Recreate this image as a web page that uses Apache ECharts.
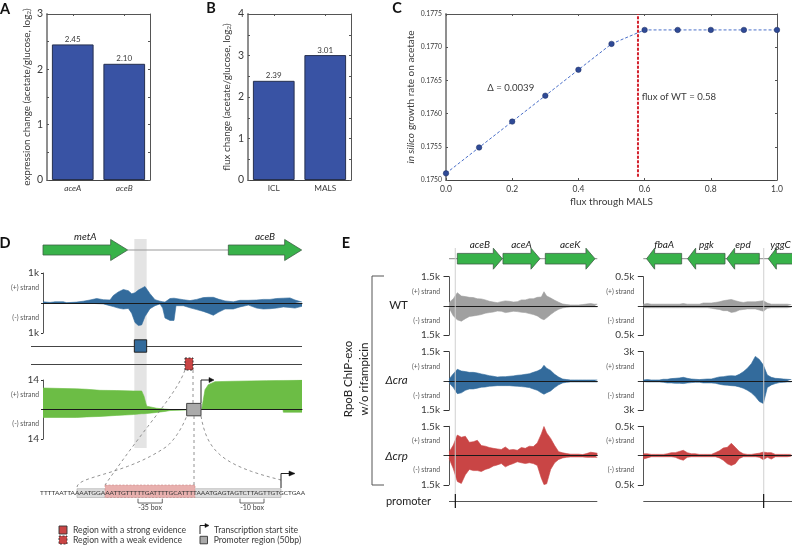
<!DOCTYPE html>
<html><head><meta charset="utf-8">
<style>html,body{margin:0;padding:0;background:#fff}#c{width:792px;height:545px}</style>
<script src="https://cdn.jsdelivr.net/npm/echarts@6/dist/echarts.min.js"></script>
</head><body><div id="c"></div>
<script>
// ---- panel A, B, C values
const exprGenes = ['aceA','aceB'];
const exprValues = [2.45,2.10];
const fluxReactions = ['ICL','MALS'];
const fluxValues = [2.39,3.01];
const malsFlux = [0,0.1,0.2,0.3,0.4,0.5,0.6,0.7,0.8,0.9,1.0];
const growthRate = [0.17510,0.17549,0.17588,0.17627,0.17666,0.17705,0.17726,0.17726,0.17726,0.17726,0.17726];
const wtFlux = 0.58;

// ---- panel D: genomic position (arbitrary units) and tracks
const dPos = [129,150,165,190,200,230,250,270,290,310,330,340,355,370,385,395,405,415,425,435,450,465,480,488,495,510,522,528,550,570,590,610,625,640,655,675,700,720,745,770,790,810,830,850,870,885,906];
const dChipPlus = [40,20,40,40,10,30,60,100,150,110,100,250,370,450,410,310,340,430,490,550,310,110,60,40,30,150,160,160,110,80,120,180,190,190,130,70,40,90,90,100,120,120,150,160,170,100,30];
const dChipMinus = [0,0,0,0,0,0,0,10,20,30,90,120,170,200,180,340,650,750,730,450,190,90,30,170,500,580,580,90,90,160,220,280,340,410,310,200,200,130,70,170,200,190,170,130,150,170,110];
const gPos = [129,230,260,300,350,400,425,432,440,445,470,495,510,512,605,610,615,625,645,700,800,849,850,906];
const rnaPlus = [10.2,9.8,9.6,9.1,9.0,8.8,8.8,6.3,1.6,0.8,0.6,0.2,0,0,0,4.7,9.4,11.8,13.2,13.4,13.7,13.8,13.8,14];
const rnaMinus = [3.8,3.8,3.5,3.3,2.8,2.4,2.0,2.0,1.9,1.9,1.4,0.9,0.5,0,0,0,0,0,0,0,0,0,1.3,1.3];
const dGeneNames = ['metA','aceB'], dGeneStarts = [129,685], dGeneEnds = [383,905];
const dStrongRegion = [403,440], dWeakRegion = [555,579], dPromoterRegion = [560,603];

// ---- panel E: left operon
const ePosL = [327,340,352,364,376,388,400,412,424,436,448,460,472,484,496,508,520,532,544,556,568,580,592,604,612,620,632,644,656,668,680,692,704,716,728,740,752,764,772];
const wtLPlus = [170,370,680,510,480,440,430,370,360,310,240,200,170,220,260,240,200,220,310,310,370,370,440,460,730,510,410,290,190,100,70,50,50,50,70,100,120,90,90];
const wtLMinus = [90,510,710,780,650,540,510,480,440,370,340,310,260,270,340,310,270,290,320,340,390,440,510,650,710,610,440,290,170,100,70,50,50,50,50,50,50,50,50];
const craLPlus = [90,370,600,510,480,440,440,410,360,320,270,240,200,220,220,240,260,290,310,340,370,440,510,610,800,650,540,340,200,100,70,50,50,50,50,50,50,50,50];
const craLMinus = [90,340,650,610,480,410,410,370,320,310,270,260,240,240,240,240,260,270,290,310,340,410,480,610,680,610,510,340,200,100,70,50,50,50,50,50,50,50,50];
const crpLPlus = [170,540,1050,940,990,680,710,780,510,480,410,370,340,310,440,290,310,270,410,370,480,460,650,1110,1490,1160,880,510,200,140,100,70,70,70,50,100,170,140,120];
const crpLMinus = [140,680,1330,1430,990,710,770,770,820,710,650,540,480,410,580,480,410,320,370,410,370,410,510,1160,1490,1450,710,370,200,120,90,70,70,70,70,90,90,90,90];
// ---- panel E: right operon
const ePosR = [160,172,184,196,208,220,232,244,256,268,280,292,304,316,328,340,352,364,376,388,400,412,424,436,448,460,472,484,496,508,520,532,544,556,568,580,592,604];
const wtRPlus = [30,40,30,30,30,30,30,30,30,30,40,30,30,30,30,50,50,50,60,70,90,100,110,90,70,60,70,70,70,80,90,50,30,30,30,30,30,20];
const wtRMinus = [30,30,30,30,30,30,30,30,30,30,30,30,30,30,30,30,30,40,50,60,80,80,110,100,70,60,50,50,50,70,90,40,30,30,30,30,30,20];
const craRPlus = [100,140,100,100,100,170,170,240,270,310,370,270,200,170,140,170,200,200,310,410,440,510,540,510,680,950,1290,1770,2520,2210,1630,610,370,270,240,200,170,140];
const craRMinus = [70,100,100,100,100,140,200,200,240,240,270,200,170,140,140,200,200,200,240,340,410,440,480,510,610,750,950,1220,1600,2110,2310,680,410,270,170,140,100,100];
const crpRPlus = [30,30,20,20,20,20,30,50,50,70,90,50,30,30,20,20,20,20,50,80,130,140,210,140,70,30,20,20,30,40,60,50,50,20,20,20,20,20];
const crpRMinus = [60,40,20,20,20,20,20,20,30,60,80,30,20,20,20,20,20,20,20,40,80,140,170,140,50,20,20,20,20,30,70,30,60,20,20,20,20,10];
const eGeneNamesL = ['aceB','aceA','aceK'], eGeneStartsL = [352,489,616], eGeneEndsL = [487,600,765];
const eGeneNamesR = ['fbaA','pgk','epd','yggC'], eGeneStartsR = [170,293,410,535], eGeneEndsR = [275,405,508,608];
const ePromoterL = 346, ePromoterR = 521;
const promoterSequence = 'TTTTAATTAAAATGGAAATTGTTTTTGATTTTGCATTTTAAATGAGTAGTCTTAGTTGTGCTGAA';

// ---- style
const FONT = 'Lato';
const TXT = '#3a3a3a', BAR = '#3953a4', BAR_EDGE = '#26304f', AXC = '#555', LEFTAX = '#8f8f8f';
const GREEN = '#38b24a', GREEN_EDGE = '#3d5f45';
const BLUE = '#336b9c', GREY = '#a0a0a0', RED = '#c94545', RNA = '#6cbd45';

const grids = [], xAxes = [], yAxes = [], series = [];
function addGrid(l,t,w,h){grids.push({left:l,top:t,width:w,height:h,containLabel:false});return grids.length-1;}
const off = {show:false};

// ---- bar panels
function barPanel(left, cats, vals, yMax, nameRich, italic, nameGap){
  const g = addGrid(left,14,103,166);
  const xi = xAxes.length, yi = yAxes.length;
  const line = c=>({show:true,onZero:false,lineStyle:{color:c,width:1}});
  xAxes.push({gridIndex:g,type:'category',data:cats,position:'bottom',axisLine:line('#444'),
    axisTick:{show:false},axisLabel:{fontFamily:FONT,fontSize:8.3,fontStyle:italic?'italic':'normal',color:TXT,margin:4}});
  xAxes.push({gridIndex:g,type:'category',data:cats,position:'top',axisLine:line('#555'),
    axisTick:{show:true,inside:true,length:2,alignWithLabel:true,lineStyle:{color:AXC}},axisLabel:off});
  yAxes.push({gridIndex:g,type:'value',min:0,max:yMax,interval:0.5,position:'left',
    axisLine:{show:true,onZero:false,lineStyle:{color:LEFTAX,width:2}},
    axisTick:{show:true,inside:true,length:2,lineStyle:{color:AXC}},splitLine:off,
    axisLabel:{fontFamily:FONT,fontSize:10.5,color:TXT,margin:4,formatter:v=>Number.isInteger(v)?String(v):''},
    name:nameRich,nameLocation:'middle',nameGap:nameGap,
    nameTextStyle:{fontFamily:FONT,fontSize:9.9,color:TXT,rich:{a:{fontFamily:FONT,fontSize:9.9,color:TXT},s:{fontFamily:FONT,fontSize:6.5,color:TXT,padding:[4,0,0,0]}}}});
  yAxes.push({gridIndex:g,type:'value',min:0,max:yMax,interval:0.5,position:'right',axisLine:line('#555'),
    axisTick:{show:true,inside:true,length:2,lineStyle:{color:AXC}},axisLabel:off,splitLine:off});
  series.push({type:'bar',xAxisIndex:xi,yAxisIndex:yi,data:vals,barWidth:'81%',
    itemStyle:{color:BAR,borderColor:BAR_EDGE,borderWidth:1},
    label:{show:true,position:'top',distance:1,fontFamily:FONT,fontSize:8,color:TXT,formatter:p=>p.value.toFixed(2)}});
}
barPanel(47,exprGenes,exprValues,3,'{a|expression change (acetate/glucose, log}{s|2}{a|)}',true,15);
barPanel(248,fluxReactions,fluxValues,4,'{a|flux change (acetate/glucose, log}{s|2}{a|)}',false,16);

// ---- panel C
(function(){
  const g = addGrid(446,14,331,166);
  const xi = xAxes.length, yi = yAxes.length;
  const tick = {show:true,inside:true,length:2,lineStyle:{color:AXC}};
  xAxes.push({gridIndex:g,type:'value',min:0,max:1,interval:0.2,position:'bottom',axisLine:{show:true,onZero:false,lineStyle:{color:'#444'}},axisTick:tick,splitLine:off,
    axisLabel:{fontFamily:FONT,fontSize:8.5,color:TXT,margin:5,formatter:v=>v.toFixed(1)},
    name:'flux through MALS',nameLocation:'middle',nameGap:16.5,nameTextStyle:{fontFamily:FONT,fontSize:10,color:TXT}});
  xAxes.push({gridIndex:g,type:'value',min:0,max:1,interval:0.2,position:'top',axisLine:{show:true,onZero:false,lineStyle:{color:AXC}},axisTick:tick,axisLabel:off,splitLine:off});
  yAxes.push({gridIndex:g,type:'value',min:0.175,max:0.1775,interval:0.0005,position:'left',axisLine:{show:true,onZero:false,lineStyle:{color:LEFTAX,width:2}},axisTick:tick,splitLine:off,
    axisLabel:{fontFamily:FONT,fontSize:6.8,color:TXT,margin:4,formatter:v=>v.toFixed(4)},
    name:'{i|in silico} {a|growth rate on acetate}',nameLocation:'middle',nameGap:28,
    nameTextStyle:{rich:{a:{fontFamily:FONT,fontSize:10,color:TXT},i:{fontFamily:FONT,fontSize:10,color:TXT,fontStyle:'italic'}}}});
  yAxes.push({gridIndex:g,type:'value',min:0.175,max:0.1775,interval:0.0005,position:'right',axisLine:{show:true,onZero:false,lineStyle:{color:AXC}},axisTick:tick,axisLabel:off,splitLine:off});
  series.push({type:'line',xAxisIndex:xi,yAxisIndex:yi,data:malsFlux.map((x,i)=>[x,growthRate[i]]),clip:false,
    lineStyle:{color:'#4a6fc9',width:1,type:[3,2]},symbol:'circle',symbolSize:5.5,
    itemStyle:{color:'#2f4a96',borderColor:'#1f2f60',borderWidth:0.5},z:4});
  series.push({type:'line',xAxisIndex:xi,yAxisIndex:yi,data:[[wtFlux,0.17505],[wtFlux,0.1775]],symbol:'none',
    lineStyle:{color:'#d3212c',width:2,type:[3,1.5]},z:3});
})();

// ---- signal tracks
function track(left,top,width,height,pos,xMin,xMax,plus,minus,yMax,color,fmt,tickLen,labelMargin){
  const g = addGrid(left,top,width,height);
  const xi = xAxes.length, yi = yAxes.length;
  xAxes.push({gridIndex:g,type:'value',min:xMin,max:xMax,axisLine:{show:true,onZero:true,lineStyle:{color:'#1a1a1a',width:1}},axisTick:off,axisLabel:off,splitLine:off,z:6});
  yAxes.push({gridIndex:g,type:'value',min:-yMax,max:yMax,position:'left',
    axisLine:{show:true,onZero:false,lineStyle:{color:'#555',width:1}},
    axisTick:{show:true,length:tickLen,customValues:[-yMax,0,yMax],lineStyle:{color:'#333'}},splitLine:off,
    axisLabel:{margin:labelMargin,customValues:[-yMax,-yMax/2,0,yMax/2,yMax],hideOverlap:false,showMinLabel:true,showMaxLabel:true,
      formatter:v=>{ if(v===0) return ''; if(Math.abs(v)===yMax) return '{m|'+fmt+'}'; return v>0?'{s|(+) strand}':'{s|(-) strand}'; },
      rich:{m:{fontFamily:FONT,fontSize:10,color:TXT},s:{fontFamily:FONT,fontSize:6.8,color:'#555'}}}});
  const mk = (vals,sign)=>({type:'line',xAxisIndex:xi,yAxisIndex:yi,data:pos.map((x,i)=>[x,sign*vals[i]]),symbol:'none',sampling:'none',
    lineStyle:{width:0.6,color:color},areaStyle:{color:color,opacity:1,origin:0},z:3});
  series.push(mk(plus,1),mk(minus,-1));
}
track(43,273,259,60,dPos,129,906,dChipPlus,dChipMinus,1000,BLUE,'1k',2,4);
track(43,380,259,59,gPos,129,906,rnaPlus,rnaMinus,14,RNA,'14',2,4);

const LX=449,LW=148.3,RX=643.3,RW=148.7;
const rows=[276.7,351.7,426.3];
track(LX,rows[0],LW,58.5,ePosL,327,772,wtLPlus,wtLMinus,1500,GREY,'1.5k',5.5,9);
track(LX,rows[1],LW,58.5,ePosL,327,772,craLPlus,craLMinus,1500,BLUE,'1.5k',5.5,9);
track(LX,rows[2],LW,58.5,ePosL,327,772,crpLPlus,crpLMinus,1500,RED,'1.5k',5.5,9);
track(RX,rows[0],RW,58.5,ePosR,160,606,wtRPlus,wtRMinus,500,GREY,'0.5k',5.5,9);
track(RX,rows[1],RW,58.5,ePosR,160,606,craRPlus,craRMinus,3000,BLUE,'3k',5.5,9);
track(RX,rows[2],RW,58.5,ePosR,160,606,crpRPlus,crpRMinus,500,RED,'0.5k',5.5,9);

// ---- overlay grids in genomic units
function overlay(left,top,width,height,xMin,xMax){
  const g = addGrid(left,top,width,height);
  const xi=xAxes.length, yi=yAxes.length;
  xAxes.push({gridIndex:g,type:'value',min:xMin,max:xMax,show:false});
  yAxes.push({gridIndex:g,type:'value',min:0,max:height,inverse:true,show:false});
  return {xi,yi};
}
function customSeries(ov,data,render,z){
  return {type:'custom',xAxisIndex:ov.xi,yAxisIndex:ov.yi,data:data,clip:false,silent:true,z:z||5,encode:{x:[0,1]},renderItem:render};
}
function genes(ov,names,starts,ends,dir,row,head,halfBody,halfHead,labelUp){
  series.push(customSeries(ov,starts.map((s,i)=>[s,ends[i]]),function(params,api){
    const a=api.coord([api.value(0),row]), b=api.coord([api.value(1),row]);
    const x0=a[0],x1=b[0],y=a[1];
    const pts = dir>0
      ? [[x0,y-halfBody],[x1-head,y-halfBody],[x1-head,y-halfHead],[x1,y],[x1-head,y+halfHead],[x1-head,y+halfBody],[x0,y+halfBody]]
      : [[x1,y-halfBody],[x0+head,y-halfBody],[x0+head,y-halfHead],[x0,y],[x0+head,y+halfHead],[x0+head,y+halfBody],[x1,y+halfBody]];
    return {type:'group',children:[
      {type:'polygon',shape:{points:pts},style:{fill:GREEN,stroke:GREEN_EDGE,lineWidth:0.8}},
      {type:'text',style:{x:(x0+x1)/2,y:y-labelUp,text:names[params.dataIndex],font:'italic 10px '+FONT,fill:'#222',textAlign:'center',textVerticalAlign:'middle'}}
    ]};
  }));
}
function hLine(ov,x0,x1,row,color,width,z){
  series.push(customSeries(ov,[[x0,x1]],function(p,api){
    const a=api.coord([api.value(0),row]),b=api.coord([api.value(1),row]);
    return {type:'line',shape:{x1:a[0],y1:a[1],x2:b[0],y2:b[1]},style:{stroke:color,lineWidth:width}};
  },z));
}
function box(ov,span,row,half,style,z){
  series.push(customSeries(ov,[span],function(p,api){
    const a=api.coord([api.value(0),row]),b=api.coord([api.value(1),row]);
    return {type:'rect',shape:{x:a[0],y:a[1]-half,width:b[0]-a[0],height:2*half},style:style};
  },z));
}

// panel D overlay: y units are pixels below y=239
const dO = overlay(43,239,259,209,129,906);
box(dO,dStrongRegion,104.5,104.5,{fill:'#e4e4e4'},1);
hLine(dO,dGeneEnds[0],dGeneStarts[1],11,'#9a9a9a',1.2);
genes(dO,dGeneNames,dGeneStarts,dGeneEnds,1,11,17,5,10.5,13);
hLine(dO,93,906,107.5,'#444',1);
hLine(dO,93,906,125.5,'#444',1);
box(dO,dStrongRegion,107,6.2,{fill:BLUE,stroke:'#222',lineWidth:1},6);
box(dO,dWeakRegion,125,6,{fill:RED,stroke:'#333',lineWidth:1,lineDash:[2,1.5]},6);
box(dO,dPromoterRegion,170.6,6.2,{fill:'#aaa',stroke:'#444',lineWidth:1},7);

// panel E overlays
const eL = overlay(LX,248,LW,260,327,772), eR = overlay(RX,248,RW,260,160,606);
hLine(eL,327,772,10.7,'#8a8a8a',1);
hLine(eR,160,606,10.7,'#8a8a8a',1);
genes(eL,eGeneNamesL,eGeneStartsL,eGeneEndsL,1,10.7,9,5.3,10.5,13.7);
genes(eR,eGeneNamesR,eGeneStartsR,eGeneEndsR,-1,10.7,8,5.3,10.5,13.7);
hLine(eL,327,772,253.5,'#555',1);
hLine(eR,160,606,253.5,'#555',1);
function promoterMark(ov,pos){
  series.push(customSeries(ov,[[pos,pos]],function(p,api){
    const a=api.coord([api.value(0),0]), m=api.coord([api.value(0),246]), b=api.coord([api.value(0),260]);
    return {type:'group',children:[
      {type:'line',shape:{x1:a[0],y1:a[1],x2:m[0],y2:m[1]},style:{stroke:'#cfcfcf',lineWidth:1.3,opacity:0.75}},
      {type:'line',shape:{x1:m[0],y1:m[1],x2:b[0],y2:b[1]},style:{stroke:'#111',lineWidth:1.2}}
    ]};
  },8));
}
promoterMark(eL,ePromoterL);
promoterMark(eR,ePromoterR);

// ---- annotations
const gfx=[];
function T(x,y,text,o){o=o||{};gfx.push({type:'text',x:x,y:y,rotation:o.rot||0,z:20,style:{text:text,font:(o.style||'')+' '+(o.weight||'')+' '+(o.size||9)+'px '+FONT,fill:o.fill||TXT,textAlign:o.align||'left',textVerticalAlign:'middle'}});}
// small path helper for annotation strokes: M, H, V, L, C, Z commands become a polyline or polygon
function P(d,o){o=o||{};
  const tk=d.match(/[MHVLCZ]|-?[\d.]+/g); let i=0,c=null,x=0,y=0,pts=[],closed=false;
  while(i<tk.length){
    if(/[A-Z]/.test(tk[i])){c=tk[i++]; if(c==='Z'){closed=true;continue;}}
    if(c==='M'||c==='L'){x=+tk[i++];y=+tk[i++];pts.push([x,y]);}
    else if(c==='H'){x=+tk[i++];pts.push([x,y]);}
    else if(c==='V'){y=+tk[i++];pts.push([x,y]);}
    else if(c==='C'){const a=+tk[i++],b=+tk[i++],e=+tk[i++],f=+tk[i++],g=+tk[i++],h=+tk[i++];
      for(let k=1;k<=16;k++){const t=k/16,u=1-t;pts.push([u*u*u*x+3*u*u*t*a+3*u*t*t*e+t*t*t*g,u*u*u*y+3*u*u*t*b+3*u*t*t*f+t*t*t*h]);}
      x=g;y=h;}
  }
  gfx.push({type:closed?'polygon':'polyline',z:o.z||15,shape:{points:pts},style:{fill:closed?(o.fill||'none'):'none',stroke:o.stroke===undefined?'#777':o.stroke,lineWidth:o.w||0.8,lineDash:o.dash||null}});
}
function R(x,y,w,h,o){gfx.push({type:'rect',z:o.z||15,shape:{x:x,y:y,width:w,height:h},style:{fill:o.fill,stroke:o.stroke||null,lineWidth:o.w||0.8,lineDash:o.dash||null,opacity:o.op==null?1:o.op}});}

[['A',5,9],['B',211,8],['C',397,8],['D',5,243],['E',346,243]].forEach(a=>T(a[1],a[2],a[0],{weight:'bold',size:14.5,fill:'#111',align:'center'}));
T(510.7,88,'\u0394 = 0.0039',{size:9.6,align:'center'});
T(641.7,97,'flux of WT = 0.58',{size:9.6});

// bracket and row labels
P('M384,276H372V485H384',{stroke:'#555',w:1});
T(348,379,'RpoB ChIP-exo',{rot:Math.PI/2,size:11.5,align:'center',fill:'#222'});
T(364,379,'w/o rifampicin',{rot:Math.PI/2,size:11.5,align:'center',fill:'#222'});
T(398.5,305,'WT',{size:11.5,align:'center',fill:'#222'});
T(396.5,380.5,'\u0394cra',{size:11.5,align:'center',style:'italic',fill:'#222'});
T(396.5,456,'\u0394crp',{size:11.5,align:'center',style:'italic',fill:'#222'});
T(408.5,501,'promoter',{size:11,align:'center',fill:'#222'});

// sequence detail
R(77,488.7,204,8.8,{fill:'#dcdcdc',stroke:'#aaa',w:0.6,z:10});
R(105,485,90,12.5,{fill:'#e8b0ae',stroke:'#c98a88',w:0.6,dash:[2,1.5],z:11});
T(172.6,492.5,promoterSequence,{size:6.5,align:'center',fill:'#333'});
P('M138,498.7V503H162.3V498.7',{stroke:'#444'});
P('M240,498.7V503H264V498.7',{stroke:'#444'});
T(150,508,'-35 box',{size:7,align:'center'});
T(252,508,'-10 box',{size:7,align:'center'});
const dash=[3,3];
P('M77,487C78,476 125,475 166,447C175,440 183,426 186.7,416',{dash});
P('M185,370C176,395 150,420 105,485',{dash});
P('M193,370V403',{dash});
P('M194,416V485',{dash});
P('M201,416C207,450 220,465 281,480',{dash});
// transcription start sites
P('M201,403V380H209',{stroke:'#222',w:1});
P('M209,377.5L214,380L209,382.5Z',{fill:'#111',stroke:'#111',w:0.5});
P('M281,488V473.5H289',{stroke:'#222',w:1});
P('M289,471L295,473.5L289,476Z',{fill:'#111',stroke:'#111',w:0.5});
// legend
R(59,526,8,8,{fill:RED,stroke:'#333',w:0.9});
R(59,536,8,8,{fill:RED,stroke:'#333',w:0.9,dash:[2,1.5]});
T(73,530,'Region with a strong evidence',{size:8.6});
T(73,540.5,'Region with a weak evidence',{size:8.6});
P('M200,534V525.5H206',{stroke:'#222',w:1});
P('M205,523.5L209,525.5L205,527.5Z',{fill:'#111',stroke:'#111',w:0.5});
R(200,536.3,7.5,7.5,{fill:'#aaa',stroke:'#333',w:0.9});
T(214,530,'Transcription start site',{size:8.6});
T(213.7,540.5,'Promoter region (50bp)',{size:8.6});

const chart = echarts.init(document.getElementById('c'),null,{renderer:'canvas'});
chart.setOption({animation:false,backgroundColor:'#fff',textStyle:{fontFamily:FONT},grid:grids,xAxis:xAxes,yAxis:yAxes,series:series,graphic:{elements:gfx}});
</script></body></html>
